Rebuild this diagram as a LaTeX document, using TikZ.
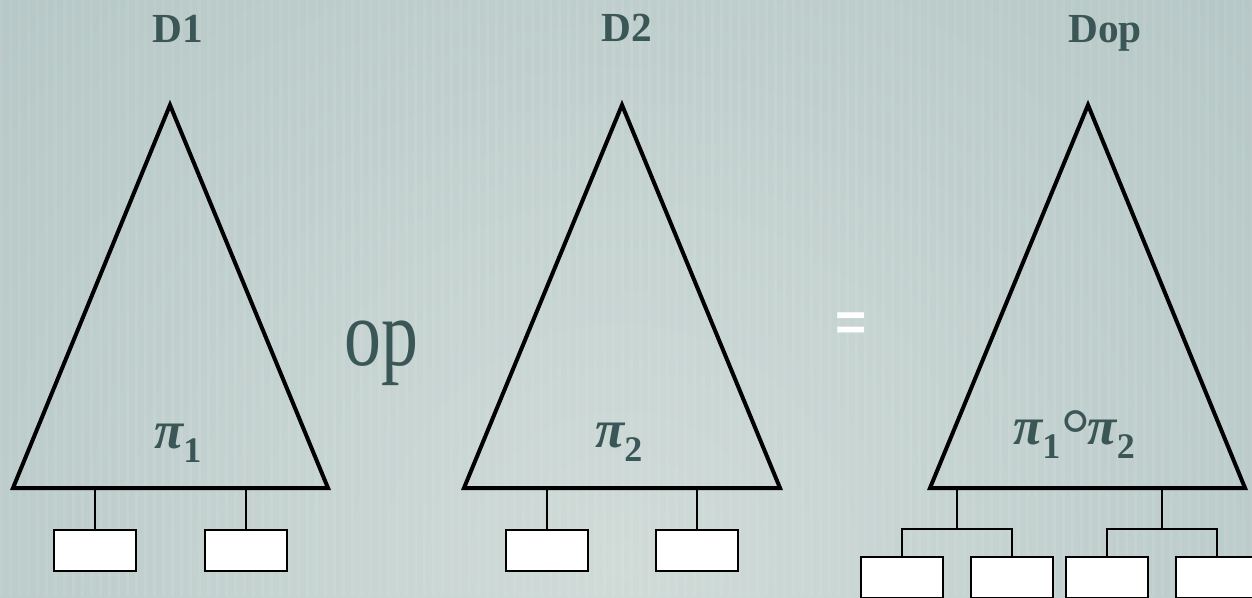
\documentclass[tikz,border=0pt]{standalone}
\usepackage{fontspec}
\setmainfont{Liberation Serif}
\newfontfamily\eqfont{Liberation Sans}
\usetikzlibrary{positioning}
\definecolor{SlateBg}{HTML}{AABFBF}
\definecolor{SlateLight}{HTML}{D0DBD8}
\definecolor{LabelTeal}{HTML}{3B5656}

\newcommand{\piname}[1]{{\fontsize{40}{40}\selectfont\bfseries\itshape π}%
  \raisebox{-11pt}{\fontsize{27}{27}\selectfont\bfseries #1}}

\begin{document}
\begin{tikzpicture}[x=0.75pt,y=-0.75pt,
    tree/.style={line width=3pt,line join=miter},
    leaf/.style={draw,line width=1.5pt,fill=white,minimum width=61.5pt,
      minimum height=30.75pt,inner sep=0pt,anchor=north},
    wire/.style={line width=1.1pt},
    title/.style={text=LabelTeal,font=\bfseries\fontsize{31}{34}\selectfont,anchor=base}
  ]
    \useasboundingbox (0,0) rectangle (1252,597);
    \clip (0,0) rectangle (1252,597);
    % background
    \fill[SlateBg] (0,0) rectangle (1252,597);
    \shade[inner color=SlateLight,outer color=SlateBg] (620,560) circle (1200);
    \foreach \sx in {0,9,...,1252}
      \fill[white,opacity=0.07] (\sx,0) rectangle ++(3,597);

    % titles
    \node[title] (d1) at (178,42) {D1};
    \node[title] (d2) at (627,41) {D2};
    \node[title] (dop) at (1105,42) {Dop};

    % triangles
    \draw[tree] (170,105) -- (328,488) -- (13,488) -- cycle;
    \draw[tree] (622,105) -- (780,488) -- (464,488) -- cycle;
    \draw[tree] (1088,105) -- (1245,488) -- (930,488) -- cycle;

    % names inside the triangles
    \node[text=LabelTeal,anchor=base west,inner sep=0pt] (p1) at (154,448) {\piname{1}};
    \node[text=LabelTeal,anchor=base west,inner sep=0pt] (p2) at (595,447) {\piname{2}};
    \node[text=LabelTeal,anchor=base west,inner sep=0pt] (p12) at (1013,444)
      {\piname{1}\kern1pt\raisebox{-11pt}{\fontsize{54}{54}\selectfont°}\kern-2pt\piname{2}};

    % operators
    \node[text=LabelTeal,anchor=base,inner sep=0pt,xscale=0.78] (op) at (381,365)
      {\fontsize{71}{71}\selectfont op};
    \node[text=white,anchor=center,inner sep=0pt] (eq) at (851,327)
      {\eqfont\fontsize{40}{40}\selectfont\bfseries =};

    % leaves of D1 and D2
    \coordinate (a1) at (95,488);
    \coordinate (a2) at (246,488);
    \coordinate (b1) at (547,488);
    \coordinate (b2) at (697,488);
    \node[leaf] (la1) at (95,529) {};
    \node[leaf] (la2) at (246,529) {};
    \node[leaf] (lb1) at (547,529) {};
    \node[leaf] (lb2) at (697,529) {};
    \draw[wire] (a1) -- (la1.north);
    \draw[wire] (a2) -- (la2.north);
    \draw[wire] (b1) -- (lb1.north);
    \draw[wire] (b2) -- (lb2.north);

    % leaves of Dop
    \coordinate (c1) at (957,488);
    \coordinate (c2) at (1162,488);
    \node[leaf] (lc1) at (902,556) {};
    \node[leaf] (lc2) at (1012,556) {};
    \node[leaf] (lc3) at (1107,556) {};
    \node[leaf] (lc4) at (1217,556) {};
    \draw[wire] (c1) -- (957,529);
    \draw[wire] (lc1.north) |- (957,529) -| (lc2.north);
    \draw[wire] (c2) -- (1162,529);
    \draw[wire] (lc3.north) |- (1162,529) -| (lc4.north);
\end{tikzpicture}
\end{document}
